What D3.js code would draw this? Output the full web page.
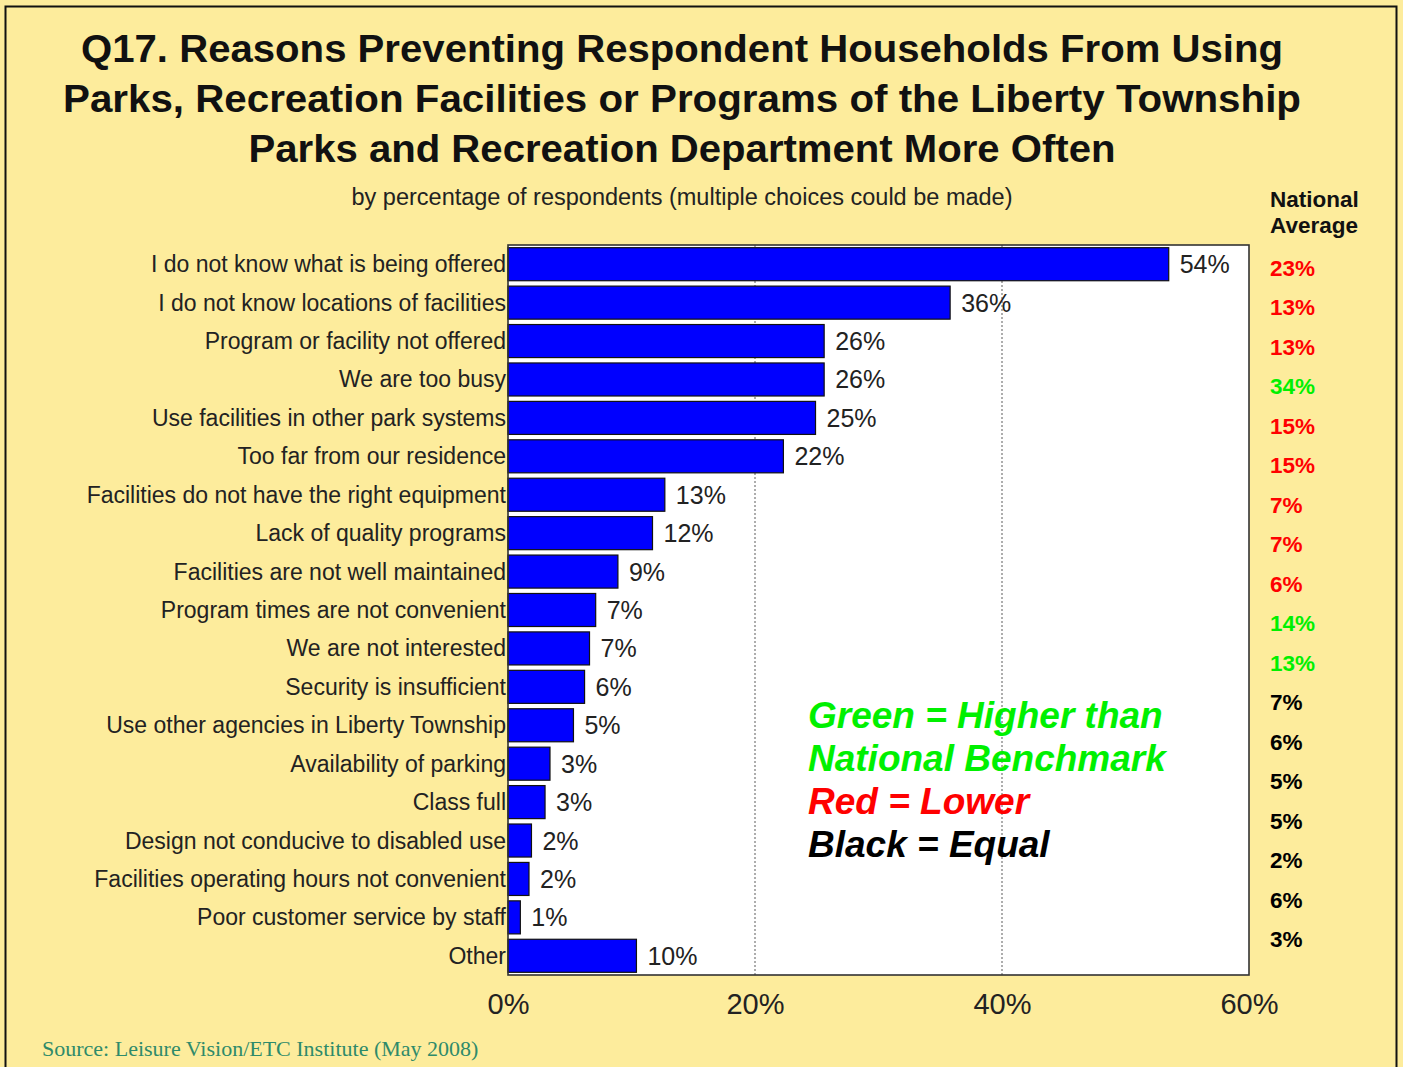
<!DOCTYPE html>
<html>
<head>
<meta charset="utf-8">
<script src="https://cdn.jsdelivr.net/npm/d3@7"></script>
<style>
html,body{margin:0;padding:0;background:#FDEC9C;}
svg{display:block;}
</style>
</head>
<body>
<script>
const titleLines = [
  "Q17. Reasons Preventing Respondent Households From Using",
  "Parks, Recreation Facilities or Programs of the Liberty Township",
  "Parks and Recreation Department More Often"
];
const subtitle = "by percentage of respondents (multiple choices could be made)";
const categories = [
  "I do not know what is being offered",
  "I do not know locations of facilities",
  "Program or facility not offered",
  "We are too busy",
  "Use facilities in other park systems",
  "Too far from our residence",
  "Facilities do not have the right equipment",
  "Lack of quality programs",
  "Facilities are not well maintained",
  "Program times are not convenient",
  "We are not interested",
  "Security is insufficient",
  "Use other agencies in Liberty Township",
  "Availability of parking",
  "Class full",
  "Design not conducive to disabled use",
  "Facilities operating hours not convenient",
  "Poor customer service by staff",
  "Other"
];
const values = [53.5, 35.8, 25.6, 25.6, 24.9, 22.3, 12.7, 11.7, 8.9, 7.1, 6.6, 6.2, 5.3, 3.4, 3.0, 1.9, 1.7, 1.0, 10.4];
const nationalAvg = [23, 13, 13, 34, 15, 15, 7, 7, 6, 14, 13, 7, 6, 5, 5, 2, 6, 3];
const nationalCmp = ["lower","lower","lower","higher","lower","lower","lower","lower","lower","higher","higher","equal","equal","equal","equal","equal","equal","equal"];
const xTicks = [0, 20, 40, 60];
const legendLines = [
  {text: "Green = Higher than", kind: "higher"},
  {text: "National Benchmark", kind: "higher"},
  {text: "Red = Lower", kind: "lower"},
  {text: "Black = Equal", kind: "equal"}
];
const sourceText = "Source:  Leisure Vision/ETC Institute (May 2008)";

const W = 1403, H = 1067;
const FONT = "'Liberation Sans', Arial, Helvetica, sans-serif";
const cmpColor = {higher: "#00F000", lower: "#FF0000", equal: "#000000"};
const plot = {left: 508, right: 1249, top: 245, bottom: 975};
const titleWidths = [1202, 1238, 867];

const svg = d3.select("body").append("svg").attr("width", W).attr("height", H)
  .style("font-family", FONT);

svg.append("rect").attr("x", 0).attr("y", 0).attr("width", W).attr("height", H).attr("fill", "#FDEC9C");
svg.append("rect").attr("x", 5.5).attr("y", 6.5).attr("width", 1391).attr("height", 1080)
  .attr("fill", "none").attr("stroke", "#111").attr("stroke-width", 2);

// Title
svg.append("g").selectAll("text").data(titleLines).join("text")
  .attr("x", 682).attr("y", (d, i) => 62 + i * 50)
  .attr("text-anchor", "middle").attr("font-weight", "bold").attr("font-size", 38)
  .attr("textLength", (d, i) => titleWidths[i]).attr("lengthAdjust", "spacingAndGlyphs")
  .attr("fill", "#111").text(d => d);

svg.append("text").attr("x", 682).attr("y", 205).attr("text-anchor", "middle")
  .attr("font-size", 23.5).attr("fill", "#222").text(subtitle);

// Scales
const x = d3.scaleLinear().domain([0, 60]).range([plot.left, plot.right]);
const y = d3.scaleBand().domain(categories).range([plot.top, plot.bottom]).paddingInner(0.14).paddingOuter(0.07);

// Plot background
svg.append("rect").attr("x", plot.left).attr("y", plot.top)
  .attr("width", plot.right - plot.left).attr("height", plot.bottom - plot.top).attr("fill", "#fff");

// gridlines
svg.append("g").selectAll("line").data(xTicks.filter(t => t > 0 && t < 60)).join("line")
  .attr("x1", d => x(d)).attr("x2", d => x(d)).attr("y1", plot.top).attr("y2", plot.bottom)
  .attr("stroke", "#777").attr("stroke-width", 1.2).attr("stroke-dasharray", "2,2");

// category labels
svg.append("g").selectAll("text").data(categories).join("text")
  .attr("x", 506).attr("y", d => y(d) + y.bandwidth() / 2 + 8)
  .attr("text-anchor", "end").attr("font-size", 23).attr("fill", "#222").text(d => d);

// bars
svg.append("g").selectAll("rect").data(categories).join("rect")
  .attr("x", x(0)).attr("y", d => y(d))
  .attr("width", (d, i) => x(values[i]) - x(0)).attr("height", y.bandwidth())
  .attr("fill", "#0000FF").attr("stroke", "#111").attr("stroke-width", 1.2);

// bar value labels
svg.append("g").selectAll("text").data(categories).join("text")
  .attr("x", (d, i) => x(values[i]) + 11).attr("y", d => y(d) + y.bandwidth() / 2 + 9)
  .attr("font-size", 25).attr("fill", "#222").text((d, i) => Math.round(values[i]) + "%");

// plot border
svg.append("rect").attr("x", plot.left).attr("y", plot.top)
  .attr("width", plot.right - plot.left).attr("height", plot.bottom - plot.top)
  .attr("fill", "none").attr("stroke", "#333").attr("stroke-width", 1.6);

// x axis labels
const xAxis = d3.axisBottom(x).tickValues(xTicks).tickFormat(d => d + "%").tickSize(0).tickPadding(18);
const gx = svg.append("g").attr("transform", `translate(0,${plot.bottom})`).call(xAxis);
gx.select(".domain").remove();
gx.selectAll("text").attr("font-size", 29).attr("fill", "#222").attr("font-family", FONT);

// National average column
svg.append("text").attr("x", 1270).attr("y", 207).attr("font-weight", "bold").attr("font-size", 22.5)
  .attr("fill", "#111").text("National");
svg.append("text").attr("x", 1270).attr("y", 233).attr("font-weight", "bold").attr("font-size", 22.5)
  .attr("fill", "#111").text("Average");

const yN = d3.scalePoint().domain(categories.slice(0, nationalAvg.length)).range([268, 939]);
svg.append("g").selectAll("text").data(nationalAvg).join("text")
  .attr("x", 1270).attr("y", (d, i) => yN(categories[i]) + 8)
  .attr("font-weight", "bold").attr("font-size", 22.5)
  .attr("fill", (d, i) => cmpColor[nationalCmp[i]]).text(d => d + "%");

// Legend
svg.append("g").selectAll("text").data(legendLines).join("text")
  .attr("x", 808).attr("y", (d, i) => 728 + i * 43)
  .attr("font-weight", "bold").attr("font-style", "italic").attr("font-size", 37)
  .attr("fill", d => cmpColor[d.kind]).text(d => d.text);

// Source
svg.append("text").attr("x", 42).attr("y", 1056)
  .attr("font-family", "'Liberation Serif', 'Times New Roman', serif").attr("font-size", 22)
  .attr("fill", "#2E8A6A").text(sourceText);
</script>
</body>
</html>
